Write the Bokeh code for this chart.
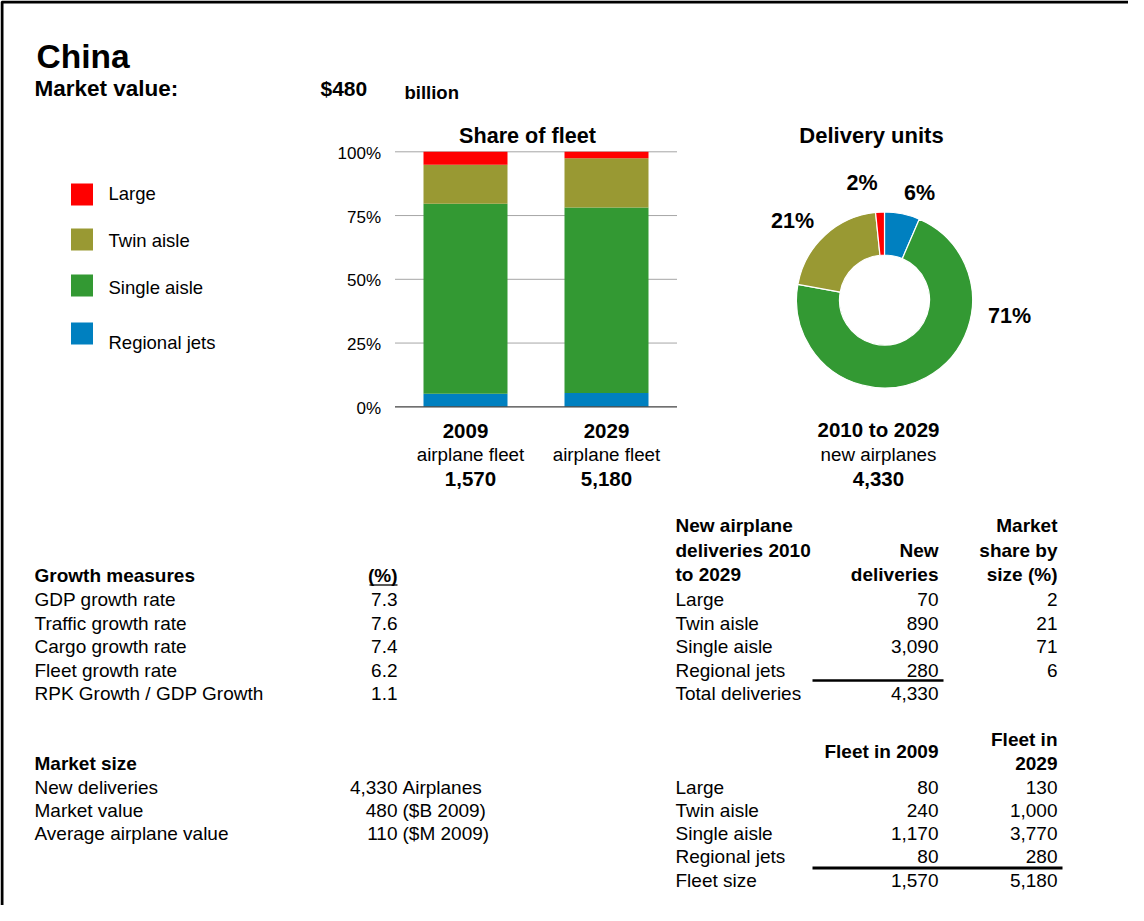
import numpy as np
from bokeh.plotting import figure
from bokeh.models import Range1d
from bokeh.core.properties import value
from bokeh.embed import file_html
from bokeh.resources import INLINE

# ---------------- data ----------------
region = "China"
market_value_text = "$480"
categories = ["Large", "Twin aisle", "Single aisle", "Regional jets"]
colors = ["#FF0000", "#999933", "#339933", "#0080C0"]
fleet_years = ["2009", "2029"]
fleet_2009 = [80, 240, 1170, 80]
fleet_2029 = [130, 1000, 3770, 280]
fleet_totals = ["1,570", "5,180"]
new_deliveries = [70, 890, 3090, 280]
new_deliveries_text = ["70", "890", "3,090", "280"]
total_deliveries_text = "4,330"
market_share = [2, 21, 71, 6]
fleet_2009_text = ["80", "240", "1,170", "80"]
fleet_2029_text = ["130", "1,000", "3,770", "280"]
bar_ticks = [0, 0.25, 0.5, 0.75, 1.0]
bar_tick_labels = ["0%", "25%", "50%", "75%", "100%"]
growth_labels = ["GDP growth rate", "Traffic growth rate", "Cargo growth rate",
                 "Fleet growth rate", "RPK Growth / GDP Growth"]
growth_values = ["7.3", "7.6", "7.4", "6.2", "1.1"]
size_labels = ["New deliveries", "Market value", "Average airplane value"]
size_values = ["4,330", "480", "110"]
size_units = ["Airplanes", "($B 2009)", "($M 2009)"]

FONT = "Liberation Sans"

# ---------------- canvas ----------------
OX, OY = 8, 8
W, H = 1128, 905
p = figure(width=W, height=H, x_range=Range1d(OX, OX + W), y_range=Range1d(OY + H, OY),
           x_axis_type=None, y_axis_type=None, output_backend="svg", toolbar_location=None,
           min_border=0, title=None)
p.grid.visible = False
p.outline_line_color = None
p.background_fill_color = "white"


def txt(x, y, s, size, bold=False, align="left", xo=0, yo=0):
    p.text(x=[x], y=[y], text=[s], text_font=value(FONT), text_font_size=f"{size}px",
           text_font_style="bold" if bold else "normal", text_align=align,
           text_baseline="alphabetic", text_color="black", x_offset=xo, y_offset=yo)


# border (top and left)
p.line(x=[9.5, 9.5, OX + W], y=[OY + H, 9.5, 9.5], line_color="black", line_width=3)

# header
txt(44, 64, region, 33.5, bold=True)
txt(42, 96, "Market value:", 22.5, bold=True)
txt(328, 96, market_value_text, 21, bold=True)
txt(412, 100, "billion", 18.5, bold=True)

# legend
leg_y = [202, 247, 293, 341]
leg_lbl_y = [200.5, 248, 294.5, 350]
for c, col, yy, ly in zip(categories, colors, leg_y, leg_lbl_y):
    p.rect(x=[89.5], y=[yy], width=22, height=22, fill_color=col, line_color=None)
    txt(116, ly, c, 18.5)

# ---------------- stacked bar chart ----------------
zero_px, full_px = 414.3, 159.3
c0_px, step_px, barw_px = 473.0, 141.0, 84.0
unit = zero_px - full_px
p.extra_y_ranges["bar"] = Range1d(start=(zero_px - (OY + H)) / unit, end=(zero_px - OY) / unit)
p.extra_x_ranges["bar"] = Range1d(start=(OX - c0_px) / step_px, end=(OX + W - c0_px) / step_px)

xi = np.arange(len(fleet_years))
p.segment(x0=[-0.5] * 4, x1=[1.5] * 4, y0=bar_ticks[1:], y1=bar_ticks[1:],
          line_color="#A6A6A6", line_width=1, x_range_name="bar", y_range_name="bar")

fleet = np.array([fleet_2009, fleet_2029], dtype=float)
shares = fleet / fleet.sum(axis=1, keepdims=True)
stack_order = [3, 2, 1, 0]  # bottom -> top: Regional, Single, Twin, Large
bottom = np.zeros(len(fleet_years))
for k in stack_order:
    top = bottom + shares[:, k]
    p.vbar(x=xi, width=barw_px / step_px, bottom=bottom, top=top, fill_color=colors[k],
           line_color=None, x_range_name="bar", y_range_name="bar")
    bottom = top

p.segment(x0=[-0.5], x1=[1.5], y0=[0], y1=[0], line_color="#404040", line_width=1.2,
          x_range_name="bar", y_range_name="bar")
p.text(x=[-0.5] * len(bar_ticks), y=bar_ticks, text=bar_tick_labels, text_font=value(FONT),
       text_font_size="17px", text_align="right", text_baseline="alphabetic",
       x_offset=-14, y_offset=1.5, text_color="black", x_range_name="bar", y_range_name="bar")

txt(535, 142.5, "Share of fleet", 21.6, bold=True, align="center")
sub_dx = [5, 0]
for i, yr in enumerate(fleet_years):
    cx = c0_px + i * step_px
    txt(cx, 438, yr, 20.5, bold=True, align="center")
    txt(cx + sub_dx[i], 461.5, "airplane fleet", 18.8, align="center")
    txt(cx + sub_dx[i], 486.5, fleet_totals[i], 20.5, bold=True, align="center")

# ---------------- donut ----------------
pcx, pcy = 892.0, 307.5
p.extra_x_ranges["pie_x"] = Range1d(start=OX - pcx, end=OX + W - pcx)
p.extra_y_ranges["pie_y"] = Range1d(start=-(OY + H - pcy), end=pcy - OY)
pie_order = [3, 2, 1, 0]  # clockwise from 12 o'clock
dv = np.array(new_deliveries, dtype=float)
frac = dv[pie_order] / dv.sum()
cum = np.concatenate([[0], np.cumsum(frac)])
starts = np.pi / 2 - 2 * np.pi * cum[1:]
ends = np.pi / 2 - 2 * np.pi * cum[:-1]
p.annular_wedge(x=0, y=0, inner_radius=45, outer_radius=88, inner_radius_units="screen",
                outer_radius_units="screen", start_angle=starts, end_angle=ends,
                fill_color=[colors[k] for k in pie_order], line_color="white", line_width=1.2,
                x_range_name="pie_x", y_range_name="pie_y")

pct_pos = {0: (869.5, 190), 1: (800, 228), 2: (1017, 323), 3: (927, 200)}
for k in range(len(categories)):
    x, y = pct_pos[k]
    txt(x, y, f"{market_share[k]}%", 21.5, bold=True, align="center")

txt(879, 142.5, "Delivery units", 22, bold=True, align="center")
txt(886, 437, "2010 to 2029", 20.5, bold=True, align="center")
txt(886, 461.5, "new airplanes", 18.8, align="center")
txt(886, 486.5, total_deliveries_text, 20.5, bold=True, align="center")

# ---------------- growth measures ----------------
FS = 19
row_y = [607, 630.5, 654, 677.5, 701]
txt(42, 582.5, "Growth measures", FS, bold=True)
txt(405, 582.5, "(%)", FS, bold=True, align="right")
p.segment(x0=[377], x1=[405], y0=[592.5], y1=[592.5], line_color="black", line_width=1.3)
for lbl, v, yy in zip(growth_labels, growth_values, row_y):
    txt(42, yy, lbl, FS)
    txt(405, yy, v, FS, align="right")

# ---------------- deliveries table ----------------
txt(683, 533, "New airplane", FS, bold=True)
txt(683, 557.5, "deliveries 2010", FS, bold=True)
txt(683, 582, "to 2029", FS, bold=True)
txt(946, 557.5, "New", FS, bold=True, align="right")
txt(946, 582, "deliveries", FS, bold=True, align="right")
txt(1065, 533, "Market", FS, bold=True, align="right")
txt(1065, 557.5, "share by", FS, bold=True, align="right")
txt(1065, 582, "size (%)", FS, bold=True, align="right")
for k in range(len(categories)):
    yy = row_y[k]
    txt(683, yy, categories[k], FS)
    txt(946, yy, new_deliveries_text[k], FS, align="right")
    txt(1065, yy, str(market_share[k]), FS, align="right")
txt(683, row_y[4], "Total deliveries", FS)
txt(946, row_y[4], total_deliveries_text, FS, align="right")
p.segment(x0=[820], x1=[951], y0=[688], y1=[688], line_color="black", line_width=2.5)

# ---------------- market size ----------------
size_y = [795, 817.5, 840.5]
txt(42, 771, "Market size", FS, bold=True)
for lbl, v, u, yy in zip(size_labels, size_values, size_units, size_y):
    txt(42, yy, lbl, FS)
    txt(405, yy, v, FS, align="right")
    txt(410, yy, u, FS)

# ---------------- fleet table ----------------
fleet_y = [795, 817.5, 840.5, 863.5, 887.5]
txt(946, 759, "Fleet in 2009", FS, bold=True, align="right")
txt(1065, 747, "Fleet in", FS, bold=True, align="right")
txt(1065, 771, "2029", FS, bold=True, align="right")
for k in range(len(categories)):
    yy = fleet_y[k]
    txt(683, yy, categories[k], FS)
    txt(946, yy, fleet_2009_text[k], FS, align="right")
    txt(1065, yy, fleet_2029_text[k], FS, align="right")
txt(683, fleet_y[4], "Fleet size", FS)
txt(946, fleet_y[4], fleet_totals[0], FS, align="right")
txt(1065, fleet_y[4], fleet_totals[1], FS, align="right")
p.segment(x0=[820], x1=[1070], y0=[875.5], y1=[875.5], line_color="black", line_width=3)

open("out.html", "w").write(file_html(p, INLINE))
